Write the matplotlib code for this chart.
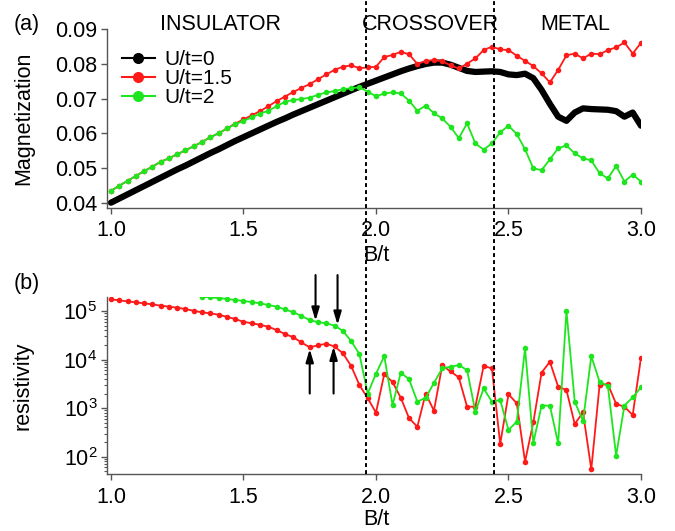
import numpy as np
import matplotlib
matplotlib.use("Agg")
import matplotlib.pyplot as plt
from matplotlib.lines import Line2D
from matplotlib.transforms import blended_transform_factory

plt.rcParams['font.family'] = ['Liberation Sans', 'DejaVu Sans']
plt.rcParams['mathtext.fontset'] = 'custom'
plt.rcParams['mathtext.rm'] = 'Liberation Sans'
plt.rcParams['font.size'] = 15.5

### Data ###

# field grid, step 1/32 from B/t = 1 to 3
B = np.arange(65) / 32 + 1.0

# magnetization, U/t = 0
mag_u0 = [0.0400, 0.0412, 0.0424, 0.0436, 0.0448, 0.0460, 0.0472, 0.0484, 0.0496, 0.0507,
          0.0519, 0.0531, 0.0543, 0.0554, 0.0566, 0.0578, 0.0589, 0.0600, 0.0611, 0.0622,
          0.0633, 0.0643, 0.0654, 0.0664, 0.0674, 0.0684, 0.0694, 0.0704, 0.0714, 0.0724,
          0.0734, 0.0743, 0.0752, 0.0761, 0.0770, 0.0779, 0.0787, 0.0794, 0.0800, 0.0804,
          0.0804, 0.0798, 0.0789, 0.0780, 0.0777, 0.0778, 0.0779, 0.0777, 0.0770, 0.0768,
          0.0772, 0.0759, 0.0725, 0.0685, 0.0648, 0.0636, 0.0660, 0.0672, 0.0670, 0.0669,
          0.0668, 0.0664, 0.0648, 0.0660, 0.0622]

# magnetization, U/t = 1.5
mag_u15 = [0.0434, 0.0449, 0.0463, 0.0477, 0.0491, 0.0504, 0.0518, 0.0528, 0.0540, 0.0551,
           0.0563, 0.0575, 0.0589, 0.0600, 0.0614, 0.0628, 0.0640, 0.0652, 0.0664, 0.0678,
           0.0693, 0.0706, 0.0719, 0.0731, 0.0742, 0.0756, 0.0770, 0.0783, 0.0792, 0.0796,
           0.0788, 0.0790, 0.0792, 0.0820, 0.0826, 0.0835, 0.0828, 0.0800, 0.0809, 0.0811,
           0.0808, 0.0796, 0.0787, 0.0801, 0.0816, 0.0840, 0.0850, 0.0842, 0.0840, 0.0824,
           0.0809, 0.0794, 0.0773, 0.0747, 0.0783, 0.0825, 0.0830, 0.0816, 0.0830, 0.0828,
           0.0840, 0.0848, 0.0862, 0.0830, 0.0861]

# magnetization, U/t = 2
mag_u2 = [0.0434, 0.0449, 0.0463, 0.0477, 0.0491, 0.0504, 0.0518, 0.0528, 0.0540, 0.0551,
          0.0563, 0.0575, 0.0589, 0.0600, 0.0614, 0.0626, 0.0636, 0.0646, 0.0657, 0.0665,
          0.0678, 0.0691, 0.0696, 0.0699, 0.0703, 0.0711, 0.0718, 0.0722, 0.0727, 0.0730,
          0.0733, 0.0720, 0.0707, 0.0715, 0.0718, 0.0715, 0.0694, 0.0665, 0.0680, 0.0658,
          0.0643, 0.0619, 0.0586, 0.0629, 0.0571, 0.0553, 0.0571, 0.0603, 0.0622, 0.0598,
          0.0554, 0.0499, 0.0494, 0.0525, 0.0557, 0.0565, 0.0542, 0.0528, 0.0522, 0.0485,
          0.0470, 0.0506, 0.0461, 0.0481, 0.0461]

# resistivity, U/t = 1.5 (all 65 fields)
res_u15 = [1.74e5, 1.66e5, 1.58e5, 1.51e5, 1.44e5, 1.37e5, 1.29e5, 1.23e5, 1.17e5, 1.10e5,
           1.01e5, 9.4e4, 8.96e4, 8.39e4, 7.6e4, 6.85e4, 6.0e4, 5.6e4, 5.2e4, 4.76e4,
           4.06e4, 3.36e4, 2.9e4, 2.25e4, 1.79e4, 1.97e4, 2.12e4, 1.86e4, 1.35e4, 7.4e3,
           3.0e3, 1.6e3, 806, 5.0e3, 3.45e3, 1.63e3, 618, 415, 2.0e3, 885,
           7.6e3, 5.7e3, 4.3e3, 1.07e3, 1.07e3, 7.4e3, 6.6e3, 183, 1.93e3, 1.26e3,
           79, 511, 5.4e3, 9.0e3, 2.77e3, 2.36e3, 471, 820, 55, 2.99e3,
           3.14e3, 1.22e3, 1.07e3, 723, 1.09e4]

# resistivity, U/t = 2 (starts at the 12th field)
res_u2 = [1.97e5, 1.91e5, 1.85e5, 1.77e5, 1.69e5, 1.61e5, 1.53e5, 1.44e5, 1.33e5,
          1.23e5, 1.08e5, 9.5e4, 7.9e4, 6.5e4, 5.9e4, 5.6e4, 5.0e4, 3.9e4, 2.41e4,
          1.30e4, 2.0e3, 5.1e3, 1.18e4, 1.16e3, 5.4e3, 3.9e3, 1.36e3, 1.64e3, 3.3e3,
          6.6e3, 7.1e3, 7.7e3, 6.1e3, 845, 2.55e3, 1.36e3, 1.47e3, 355, 526,
          1.7e4, 194, 1.13e3, 1.13e3, 188, 1.01e5, 1.36e3, 543, 1.18e4, 3.5e3,
          2.86e3, 105, 1.13e3, 1.67e3, 2.68e3]
B_u2 = B[11:]

# phase boundaries
boundaries = [1.963, 2.445]

# arrow positions (B, tail, tip) marking resistivity kinks
arrows_down = [(1.772, 5.5e5, 6.3e4), (1.855, 5.5e5, 5.2e4)]
arrows_up = [(1.75, 2.0e3, 1.65e4), (1.84, 2.0e3, 1.85e4)]

RED = '#ff1a1a'
GREEN = '#1ee61e'
AXCOL = '#555555'

### Figure ###

fig = plt.figure(figsize=(6.75, 5.31), dpi=100)
ax1 = fig.add_axes([0.1585, 0.6083, 0.7911, 0.3365])
ax2 = fig.add_axes([0.1585, 0.1073, 0.7911, 0.3339])


def style_axis(ax):
    for side in ['top', 'right']:
        ax.spines[side].set_visible(False)
    for side in ['left', 'bottom']:
        ax.spines[side].set_color(AXCOL)
        ax.spines[side].set_linewidth(1.0)
    ax.tick_params(which='major', direction='out', length=4, width=1.0, color=AXCOL)
    ax.tick_params(which='minor', direction='out', length=2, width=0.8, color=AXCOL)
    ax.tick_params(axis='x', pad=5)
    ax.tick_params(axis='y', pad=3)
    ax.set_xlim(0.985, 3.0)
    ax.set_xticks([1.0, 1.5, 2.0, 2.5, 3.0])
    ax.set_xticklabels(['1.0', '1.5', '2.0', '2.5', '3.0'])
    ax.set_xlabel('B/t')


# (a) magnetization
style_axis(ax1)
ax1.plot(B, mag_u0, color='black', lw=4.5, solid_capstyle='round', solid_joinstyle='round')
ax1.plot(B, mag_u15, color=RED, lw=1.3, marker='o', ms=4, mew=0)
ax1.plot(B, mag_u2, color=GREEN, lw=1.3, marker='o', ms=4, mew=0)
ax1.set_ylim(0.03847, 0.090)
ax1.set_yticks([0.04, 0.05, 0.06, 0.07, 0.08, 0.09])
ax1.set_yticklabels(['0.04', '0.05', '0.06', '0.07', '0.08', '0.09'])
ax1.set_ylabel('Magnetization')
ax1.yaxis.set_label_coords(-0.137, 0.5)
ax1.xaxis.set_label_coords(0.504, -0.205)

handles = [Line2D([], [], color=c, lw=1.5, marker='o', ms=8, mew=0)
           for c in ['black', RED, GREEN]]
ax1.legend(handles, ['U/t=0', 'U/t=1.5', 'U/t=2'], loc='upper left',
           bbox_to_anchor=(0.180, 0.905), bbox_transform=fig.transFigure,
           frameon=False, handlelength=1.6, handletextpad=0.45,
           labelspacing=0.0, borderpad=0, borderaxespad=0, fontsize=15)

# (b) resistivity
style_axis(ax2)
ax2.set_yscale('log')
ax2.plot(B, res_u15, color=RED, lw=1.3, marker='o', ms=4, mew=0)
ax2.plot(B_u2, res_u2, color=GREEN, lw=1.3, marker='o', ms=4, mew=0)
ax2.set_ylim(44, 1.97e5)
ax2.set_yticks([1e2, 1e3, 1e4, 1e5])
ax2.set_ylabel('resistivity')
ax2.yaxis.set_label_coords(-0.137, 0.5)
ax2.xaxis.set_label_coords(0.504, -0.195)

for b, y0, y1 in arrows_down + arrows_up:
    ax2.annotate('', xy=(b, y1), xytext=(b, y0), annotation_clip=False,
                 arrowprops=dict(arrowstyle='-|>,head_length=0.5,head_width=0.15',
                                 color='black', lw=1.5, shrinkA=0, shrinkB=0))

# phase boundaries across both panels
trans = blended_transform_factory(ax1.transData, fig.transFigure)
for b in boundaries:
    fig.add_artist(Line2D([b, b], [0.1073, 1.0], transform=trans, color='black',
                          lw=1.4, linestyle=(0, (2.0, 1.6))))

fig.text(0.326, 0.953, 'INSULATOR', ha='center', va='center')
fig.text(0.637, 0.953, 'CROSSOVER', ha='center', va='center')
fig.text(0.852, 0.953, 'METAL', ha='center', va='center')
fig.text(0.040, 0.953, '(a)', ha='center', va='center')
fig.text(0.040, 0.467, '(b)', ha='center', va='center')

fig.savefig('out.png', dpi=100)
